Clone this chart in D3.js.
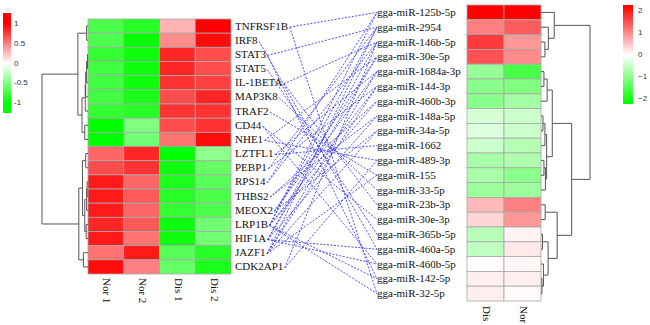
<!DOCTYPE html>
<html>
<head>
<meta charset="utf-8">
<script src="https://cdn.jsdelivr.net/npm/d3@7"></script>
<style>
  html, body { margin: 0; padding: 0; background: #ffffff; }
  svg text { font-family: "Liberation Serif", "Times New Roman", serif; }
  svg text.legend { font-family: "Liberation Sans", Arial, sans-serif; }
</style>
</head>
<body>
<svg id="chart" width="650" height="325"></svg>
<script>
const genes = ["TNFRSF1B", "IRF8", "STAT3", "STAT5", "IL-1BETA", "MAP3K8", "TRAF2", "CD44", "NHE1",
  "LZTFL1", "PEBP1", "RPS14", "THBS2", "MEOX2", "LRP1B", "HIF1A", "JAZF1", "CDK2AP1"];
const geneSamples = ["Nor 1", "Nor 2", "Dis 1", "Dis 2"];
// z-scores per gene, in the order of geneSamples
const geneValues = [
  [-0.7, -0.85, 0.3, 1.0],
  [-0.7, -1.0, 0.45, 0.95],
  [-0.8, -0.95, 0.85, 0.7],
  [-0.75, -0.95, 0.85, 0.7],
  [-0.75, -0.95, 0.8, 0.75],
  [-0.75, -0.9, 0.7, 0.85],
  [-0.8, -0.85, 0.8, 0.8],
  [-1.0, -0.5, 0.7, 0.8],
  [-1.0, -0.55, 0.55, 0.95],
  [0.6, 0.85, -1.0, -0.45],
  [0.7, 0.8, -0.95, -0.6],
  [0.9, 0.6, -0.9, -0.65],
  [0.9, 0.65, -0.85, -0.7],
  [0.9, 0.6, -0.8, -0.7],
  [0.85, 0.65, -0.95, -0.55],
  [0.9, 0.55, -0.95, -0.55],
  [0.55, 0.9, -0.65, -0.85],
  [0.95, 0.5, -0.6, -0.9]
];

const mirnas = ["gga-miR-125b-5p", "gga-miR-2954", "gga-miR-146b-5p", "gga-miR-30e-5p", "gga-miR-1684a-3p",
  "gga-miR-144-3p", "gga-miR-460b-3p", "gga-miR-148a-5p", "gga-miR-34a-5p", "gga-miR-1662",
  "gga-miR-489-3p", "gga-miR-155", "gga-miR-33-5p", "gga-miR-23b-3p", "gga-miR-30e-3p",
  "gga-miR-365b-5p", "gga-miR-460a-5p", "gga-miR-460b-5p", "gga-miR-142-5p", "gga-miR-32-5p"];
const mirSamples = ["Dis", "Nor"];
const mirValues = [
  [2.2, 2.2], [1.1, 1.4], [1.7, 0.9], [1.5, 1.0], [-0.9, -1.6],
  [-1.0, -1.1], [-1.0, -0.8], [-0.35, -0.45], [-0.3, -0.45], [-0.45, -0.65],
  [-0.75, -0.7], [-0.75, -1.0], [-0.85, -0.85], [0.6, 1.1], [0.35, 0.9],
  [-0.6, 0.1], [-0.55, 0.2], [0.03, 0.08], [0.15, 0.15], [0.15, 0.05]
];

// predicted gene - miRNA pairs
const links = [
  ["TNFRSF1B", "gga-miR-125b-5p"], ["TNFRSF1B", "gga-miR-32-5p"],
  ["IRF8", "gga-miR-460a-5p"],
  ["STAT3", "gga-miR-2954"], ["STAT3", "gga-miR-142-5p"],
  ["STAT5", "gga-miR-365b-5p"],
  ["IL-1BETA", "gga-miR-146b-5p"], ["IL-1BETA", "gga-miR-23b-3p"],
  ["MAP3K8", "gga-miR-33-5p"],
  ["TRAF2", "gga-miR-155"],
  ["CD44", "gga-miR-30e-3p"], ["CD44", "gga-miR-460b-5p"],
  ["NHE1", "gga-miR-30e-5p"], ["NHE1", "gga-miR-489-3p"],
  ["LZTFL1", "gga-miR-1684a-3p"], ["LZTFL1", "gga-miR-1662"],
  ["PEBP1", "gga-miR-144-3p"], ["PEBP1", "gga-miR-2954"],
  ["RPS14", "gga-miR-125b-5p"], ["RPS14", "gga-miR-146b-5p"],
  ["THBS2", "gga-miR-460b-3p"], ["THBS2", "gga-miR-148a-5p"],
  ["MEOX2", "gga-miR-30e-5p"], ["MEOX2", "gga-miR-34a-5p"], ["MEOX2", "gga-miR-1684a-3p"],
  ["LRP1B", "gga-miR-125b-5p"], ["LRP1B", "gga-miR-2954"], ["LRP1B", "gga-miR-144-3p"],
  ["LRP1B", "gga-miR-460b-3p"], ["LRP1B", "gga-miR-32-5p"], ["LRP1B", "gga-miR-142-5p"],
  ["HIF1A", "gga-miR-146b-5p"], ["HIF1A", "gga-miR-30e-5p"], ["HIF1A", "gga-miR-148a-5p"],
  ["HIF1A", "gga-miR-460b-5p"], ["HIF1A", "gga-miR-460a-5p"],
  ["JAZF1", "gga-miR-2954"], ["JAZF1", "gga-miR-1684a-3p"], ["JAZF1", "gga-miR-144-3p"],
  ["JAZF1", "gga-miR-34a-5p"], ["JAZF1", "gga-miR-155"],
  ["CDK2AP1", "gga-miR-146b-5p"], ["CDK2AP1", "gga-miR-489-3p"]
];

// clustering trees: [height, left, right], leaves are row indices
const geneTree = [10,
  [2.2, [0.3, 0, 1], [1.3, [0.6, [0.5, [0.3, [0.1, 2, 3], 4], 5], 6], [0.7, 7, 8]]],
  [2.0, [1.2, [0.5, 9, 10], [0.7, [0.3, [0.2, 11, 12], 13], [0.4, 14, 15]]], [1.0, 16, 17]]
];
const mirTree = [10,
  [2.7, 0, [1.5, 1, [0.8, 2, 3]]],
  [6.25,
    [2.3, [1.25, [0.6, 4, 5], 6], [1.15, [0.8, [0.4, 7, 8], 9], [0.9, [0.6, 10, 11], 12]]],
    [3.3, [0.85, 13, 14], [1.45, [0.3, 15, 16], [0.5, 17, [0.2, 18, 19]]]]
  ]
];

const geneLegendTicks = [1, 0.5, 0, -0.5, -1];
const mirLegendTicks = [2, 1, 0, -1, -2];

const svg = d3.select("#chart");

const geneColor = d3.scaleLinear().domain([-1, 0, 1]).range(["#00ff00", "#ffffff", "#ff0000"]).clamp(true);
const mirColor = d3.scaleLinear().domain([-2.2, 0, 2.2]).range(["#00ff00", "#ffffff", "#ff0000"]).clamp(true);

function drawHeatmap(rowNames, colNames, values, color, box) {
  const x = d3.scaleBand().domain(colNames).range([box.x0, box.x1]);
  const y = d3.scaleBand().domain(rowNames).range([box.y0, box.y1]);
  const g = svg.append("g");
  rowNames.forEach(function(r, i) {
    colNames.forEach(function(c, j) {
      g.append("rect")
        .attr("x", x(c))
        .attr("y", y(r))
        .attr("width", x.bandwidth())
        .attr("height", y.bandwidth())
        .attr("fill", color(values[i][j]))
        .attr("stroke", "#a8a8a8")
        .attr("stroke-width", 0.8);
    });
  });
  return { x: x, y: y };
}

function drawTree(tree, yPos, hScale, leafX) {
  const g = svg.append("g").attr("fill", "none").attr("stroke", "#555").attr("stroke-width", 1);
  function walk(node) {
    if (typeof node === "number") return { x: leafX, y: yPos(node) };
    const a = walk(node[1]);
    const b = walk(node[2]);
    const nx = hScale(node[0]);
    g.append("path").attr("d", "M" + a.x + "," + a.y + "H" + nx + "V" + b.y + "H" + b.x);
    return { x: nx, y: (a.y + b.y) / 2 };
  }
  walk(tree);
}

function drawLegend(color, ticks, box, textX) {
  const id = "grad" + textX;
  const y = d3.scaleLinear().domain([ticks[ticks.length - 1], ticks[0]]).range([box.yMin, box.yMax]);
  const lo = y.invert(box.y1);
  const hi = y.invert(box.y0);
  const grad = svg.append("defs").append("linearGradient")
    .attr("id", id).attr("x1", 0).attr("x2", 0).attr("y1", 1).attr("y2", 0);
  d3.range(0, 1.0001, 0.05).forEach(function(t) {
    grad.append("stop").attr("offset", t).attr("stop-color", color(lo + (hi - lo) * t));
  });
  svg.append("rect")
    .attr("x", box.x0).attr("y", box.y0)
    .attr("width", box.x1 - box.x0).attr("height", box.y1 - box.y0)
    .attr("fill", "url(#" + id + ")");
  svg.append("g").selectAll("text").data(ticks).join("text")
    .attr("class", "legend")
    .attr("x", textX)
    .attr("y", function(d) { return y(d); })
    .attr("dominant-baseline", "middle")
    .attr("font-size", 8)
    .attr("fill", "#333")
    .text(function(d) { return box.minus ? String(d).replace("-", "\u2212") : String(d); });
}

// left: genes
const gh = drawHeatmap(genes, geneSamples, geneValues, geneColor, { x0: 88, x1: 231, y0: 19, y1: 274 });
const gRowY = function(i) { return gh.y(genes[i]) + gh.y.bandwidth() / 2; };
drawTree(geneTree, gRowY, d3.scaleLinear().domain([0, 10]).range([88, 42]), 88);

// right: miRNAs
const mh = drawHeatmap(mirnas, mirSamples, mirValues, mirColor, { x0: 467, x1: 541, y0: 5, y1: 301 });
const mRowY = function(i) { return mh.y(mirnas[i]) + mh.y.bandwidth() / 2; };
drawTree(mirTree, mRowY, d3.scaleLinear().domain([0, 10]).range([541, 590]), 541);

const geneLabels = svg.append("g").selectAll("text").data(genes).join("text")
  .attr("x", 235)
  .attr("y", function(d) { return gh.y(d) + gh.y.bandwidth() / 2 + 1; })
  .attr("dominant-baseline", "middle")
  .attr("font-size", 11)
  .attr("fill", "#111")
  .text(function(d) { return d; });

const geneEnd = {};
geneLabels.each(function(d) { geneEnd[d] = 235 + this.getComputedTextLength() + 1.5; });

svg.append("g").selectAll("text").data(mirnas).join("text")
  .attr("x", 377)
  .attr("y", function(d) { return mh.y(d) + mh.y.bandwidth() / 2 + 1; })
  .attr("dominant-baseline", "middle")
  .attr("font-size", 11)
  .attr("fill", "#111")
  .text(function(d) { return d; });

svg.append("g")
  .attr("stroke", "#4040e0")
  .attr("stroke-width", 0.9)
  .attr("stroke-dasharray", "2,1.5")
  .attr("fill", "none")
  .selectAll("line").data(links).join("line")
  .attr("x1", function(d) { return geneEnd[d[0]]; })
  .attr("y1", function(d) { return gh.y(d[0]) + gh.y.bandwidth() / 2 + 1; })
  .attr("x2", 377)
  .attr("y2", function(d) { return mh.y(d[1]) + mh.y.bandwidth() / 2; });

// column labels, rotated
svg.append("g").selectAll("text").data(geneSamples).join("text")
  .attr("transform", function(d) { return "translate(" + (gh.x(d) + gh.x.bandwidth() / 2) + ",278) rotate(90)"; })
  .attr("dominant-baseline", "middle")
  .attr("font-size", 11)
  .attr("fill", "#111")
  .text(function(d) { return d; });

svg.append("g").selectAll("text").data(mirSamples).join("text")
  .attr("transform", function(d) { return "translate(" + (mh.x(d) + mh.x.bandwidth() / 2) + ",306) rotate(90)"; })
  .attr("dominant-baseline", "middle")
  .attr("font-size", 11)
  .attr("fill", "#111")
  .text(function(d) { return d; });

drawLegend(geneColor, geneLegendTicks, { x0: 3, x1: 11, y0: 13, y1: 113, yMin: 103, yMax: 24 }, 14);
drawLegend(mirColor, mirLegendTicks, { x0: 623, x1: 633, y0: 5, y1: 104, yMin: 99, yMax: 11, minus: true }, 638);
</script>
</body>
</html>
